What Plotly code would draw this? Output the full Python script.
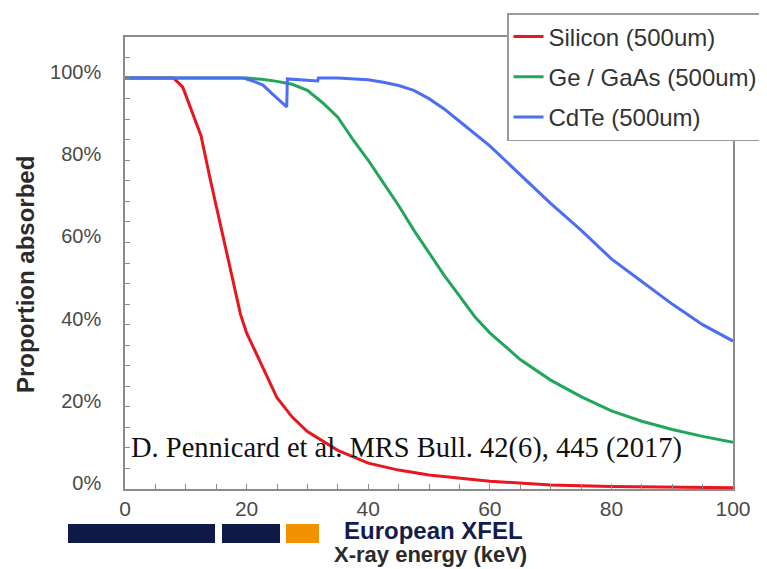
import plotly.graph_objects as go

# ---- data ----
si_energy = [0, 8, 9.5, 11, 12.5, 14, 15, 16, 17.5, 19, 20, 22.5, 25, 27.5, 30, 35, 40, 45, 50, 60, 70, 80, 90, 100]
si_absorbed = [1.0, 1.0, 0.978, 0.92, 0.86, 0.755, 0.69, 0.62, 0.52, 0.425, 0.38, 0.30, 0.222, 0.175, 0.14, 0.094, 0.063, 0.046, 0.034, 0.019, 0.01, 0.006, 0.004, 0.003]

ge_energy = [0, 20, 22.5, 25, 27.5, 30, 32.5, 35, 37.5, 40, 42.5, 45, 47.5, 50, 52.5, 55, 57.5, 60, 65, 70, 75, 80, 85, 90, 95, 100]
ge_absorbed = [1.0, 1.0, 0.997, 0.992, 0.985, 0.97, 0.94, 0.905, 0.85, 0.80, 0.745, 0.69, 0.63, 0.575, 0.52, 0.47, 0.42, 0.38, 0.315, 0.265, 0.225, 0.19, 0.165, 0.145, 0.128, 0.114]

cdte_energy = [0, 19.5, 21, 22.7, 24.4, 26.6, 26.7, 31.7, 31.8, 35, 40, 42.5, 45, 47.5, 50, 52.5, 55, 57.5, 60, 62.5, 65, 67.5, 70, 75, 80, 85, 90, 95, 100]
cdte_absorbed = [1.0, 1.0, 0.993, 0.983, 0.959, 0.93, 0.998, 0.993, 1.0, 1.0, 0.996, 0.99, 0.982, 0.97, 0.95, 0.925, 0.895, 0.865, 0.835, 0.80, 0.765, 0.73, 0.695, 0.63, 0.56, 0.505, 0.45, 0.40, 0.36]

series_names = ["Silicon (500um)", "Ge / GaAs (500um)", "CdTe (500um)"]
series_colors = ["#e8161e", "#22a65a", "#4b6ef3"]

y_tick_values = [0, 0.2, 0.4, 0.6, 0.8, 1.0]
x_tick_values = [0, 20, 40, 60, 80, 100]

FONT = "Liberation Sans, Arial, sans-serif"

fig = go.Figure()
for i, (xs, ys) in enumerate([(si_energy, si_absorbed), (ge_energy, ge_absorbed), (cdte_energy, cdte_absorbed)]):
    fig.add_trace(go.Scatter(
        x=xs, y=ys, mode="lines", name=series_names[i], legendgroup=f"g{i}",
        line=dict(color=series_colors[i], width=3),
    ))

axis_common = dict(
    showline=True, linecolor="#8c8c8c", linewidth=1.5, mirror=True,
    showgrid=False, zeroline=False,
    ticks="inside", ticklen=5, tickcolor="#8c8c8c", tickwidth=1,
)

fig.update_xaxes(
    range=[0, 100], tickvals=x_tick_values, ticklabelstandoff=0,
    tickfont=dict(family=FONT, size=21, color="#4a4a4a"),
    minor=dict(dtick=5, ticks="inside", ticklen=5, tickcolor="#8c8c8c"),
    **axis_common,
)
fig.update_yaxes(
    range=[0, 1.1], tickvals=y_tick_values, tickformat=".0%", ticklabelstandoff=18,
    ticklabelshift=-6,
    tickfont=dict(family=FONT, size=20, color="#4a4a4a"),
    minor=dict(dtick=0.05, ticks="inside", ticklen=5, tickcolor="#8c8c8c"),
    **axis_common,
)

# page body has an 8px margin: figure drawn at screen offset (8, 8)
OFF = 8
W, H = 767 - OFF, 569 - OFF
# plot area in screen pixels
SX0, SX1, SY0, SY1 = 125, 733, 37, 489
L, R, T, B = SX0 - OFF, W - (SX1 - OFF), SY0 - OFF, H - (SY1 - OFF)

def px_x(p):
    return (p - SX0) / (SX1 - SX0)

def px_y(p):
    return (SY1 - p) / (SY1 - SY0)

# European XFEL logo bars
for x0, x1, col in [(68, 215, "#0f1a48"), (222, 280, "#0f1a48"), (286, 319, "#f39200")]:
    fig.add_shape(type="rect", xref="paper", yref="paper",
                  x0=px_x(x0), x1=px_x(x1), y0=px_y(543), y1=px_y(524),
                  fillcolor=col, line=dict(width=0), layer="above")

fig.add_annotation(text="<b>European XFEL</b>", xref="paper", yref="paper",
                   x=px_x(342), y=px_y(530), xanchor="left", yanchor="middle",
                   showarrow=False, font=dict(family=FONT, size=24, color="#141c4f"))
fig.add_annotation(text="<b>X-ray energy (keV)</b>", xref="paper", yref="paper",
                   x=px_x(430), y=px_y(554), xanchor="center", yanchor="middle",
                   showarrow=False, font=dict(family=FONT, size=22, color="#2b2b2b"))
fig.add_annotation(text="<b>Proportion absorbed</b>", xref="paper", yref="paper",
                   x=px_x(25), y=px_y(275), xanchor="center", yanchor="middle",
                   textangle=-90, showarrow=False,
                   font=dict(family=FONT, size=24, color="#2b2b2b"))
fig.add_annotation(text="D. Pennicard et al. MRS Bull. 42(6), 445 (2017)",
                   xref="paper", yref="paper", x=px_x(129), y=px_y(448),
                   xanchor="left", yanchor="middle", showarrow=False,
                   font=dict(family="Liberation Serif, Times New Roman, serif", size=28.5, color="#111111"))

fig.update_layout(
    width=W, height=H,
    margin=dict(l=L, r=R, t=T, b=B, autoexpand=False),
    paper_bgcolor="white", plot_bgcolor="white",
    showlegend=True,
    legend=dict(
        x=px_x(507), y=px_y(13), xanchor="left", yanchor="top",
        bgcolor="white", bordercolor="#9a9a9a", borderwidth=1.5,
        font=dict(family=FONT, size=24, color="#333333"),
        tracegroupgap=6, itemwidth=30,
    ),
)

fig.write_html("out.html")
